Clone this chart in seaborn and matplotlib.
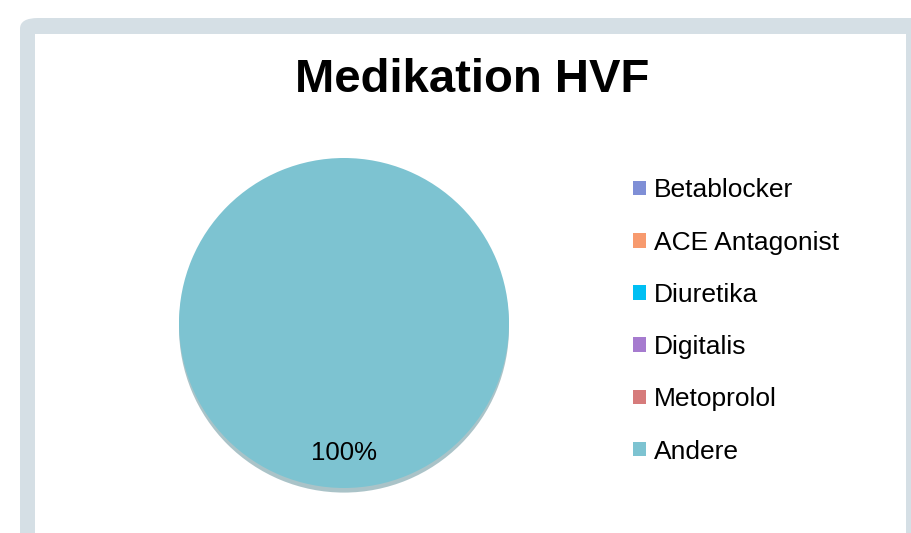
import matplotlib
matplotlib.use('Agg')
import matplotlib.pyplot as plt
import seaborn as sns
from matplotlib.patches import FancyBboxPatch, Rectangle

# data
labels = ['Betablocker', 'ACE Antagonist', 'Diuretika', 'Digitalis', 'Metoprolol', 'Andere']
values = [0, 0, 0, 0, 0, 100]
colors = ['#7F8FD6', '#F79A6E', '#00BFF3', '#A67BCF', '#D67B7B', '#7DC3D1']
title = 'Medikation HVF'

sns.set_theme(style='white')
plt.rcParams['font.family'] = ['Liberation Sans', 'DejaVu Sans']

W, H = 911, 533
fig = plt.figure(figsize=(W / 100, H / 100), dpi=100)
fig.patch.set_facecolor('white')

# slide frame
frame = FancyBboxPatch((20 / W, -0.1), 1.0, 1 - 18 / H + 0.1,
                       boxstyle='round,pad=0,rounding_size=0.02',
                       transform=fig.transFigure, facecolor='#D5DFE5',
                       edgecolor='none', zorder=0)
fig.patches.append(frame)
inner = Rectangle((35 / W, -0.1), (906 - 35) / W, 1 - 34 / H + 0.1,
                  transform=fig.transFigure, facecolor='white',
                  edgecolor='none', zorder=1)
fig.patches.append(inner)

# pie axes
cx, cy, r = 344, 323, 165
half = r * 1.1
ax = fig.add_axes([(cx - half) / W, (H - cy - half) / H, 2 * half / W, 2 * half / H])
ax.set_facecolor('none')
ax.set_zorder(3)


def pct(p):
    return f'{p:.0f}%' if p > 0 else ''


wedges, texts, autotexts = ax.pie(values, colors=colors, startangle=90,
                                  autopct=pct, pctdistance=0.79,
                                  shadow={'ox': 0, 'oy': -0.02, 'shade': 0.3},
                                  textprops={'fontsize': 18.5, 'color': 'black'},
                                  wedgeprops={'linewidth': 0})
ax.set_xlim(-1.1, 1.1)
ax.set_ylim(-1.1, 1.1)
ax.set_aspect('equal')

fig.text(472 / W, 1 - 80 / H, title, ha='center', va='center',
         fontsize=34, fontweight='bold', color='black', zorder=4)

leg = fig.legend(wedges, labels, loc='center left',
                 bbox_to_anchor=(620 / W, 1 - 321 / H), frameon=False,
                 fontsize=19, handlelength=0.47, handleheight=0.47,
                 handletextpad=0.33, labelspacing=1.07, borderpad=0,
                 labelcolor='black')
leg.set_zorder(4)

plt.savefig('out.png', dpi=100)
